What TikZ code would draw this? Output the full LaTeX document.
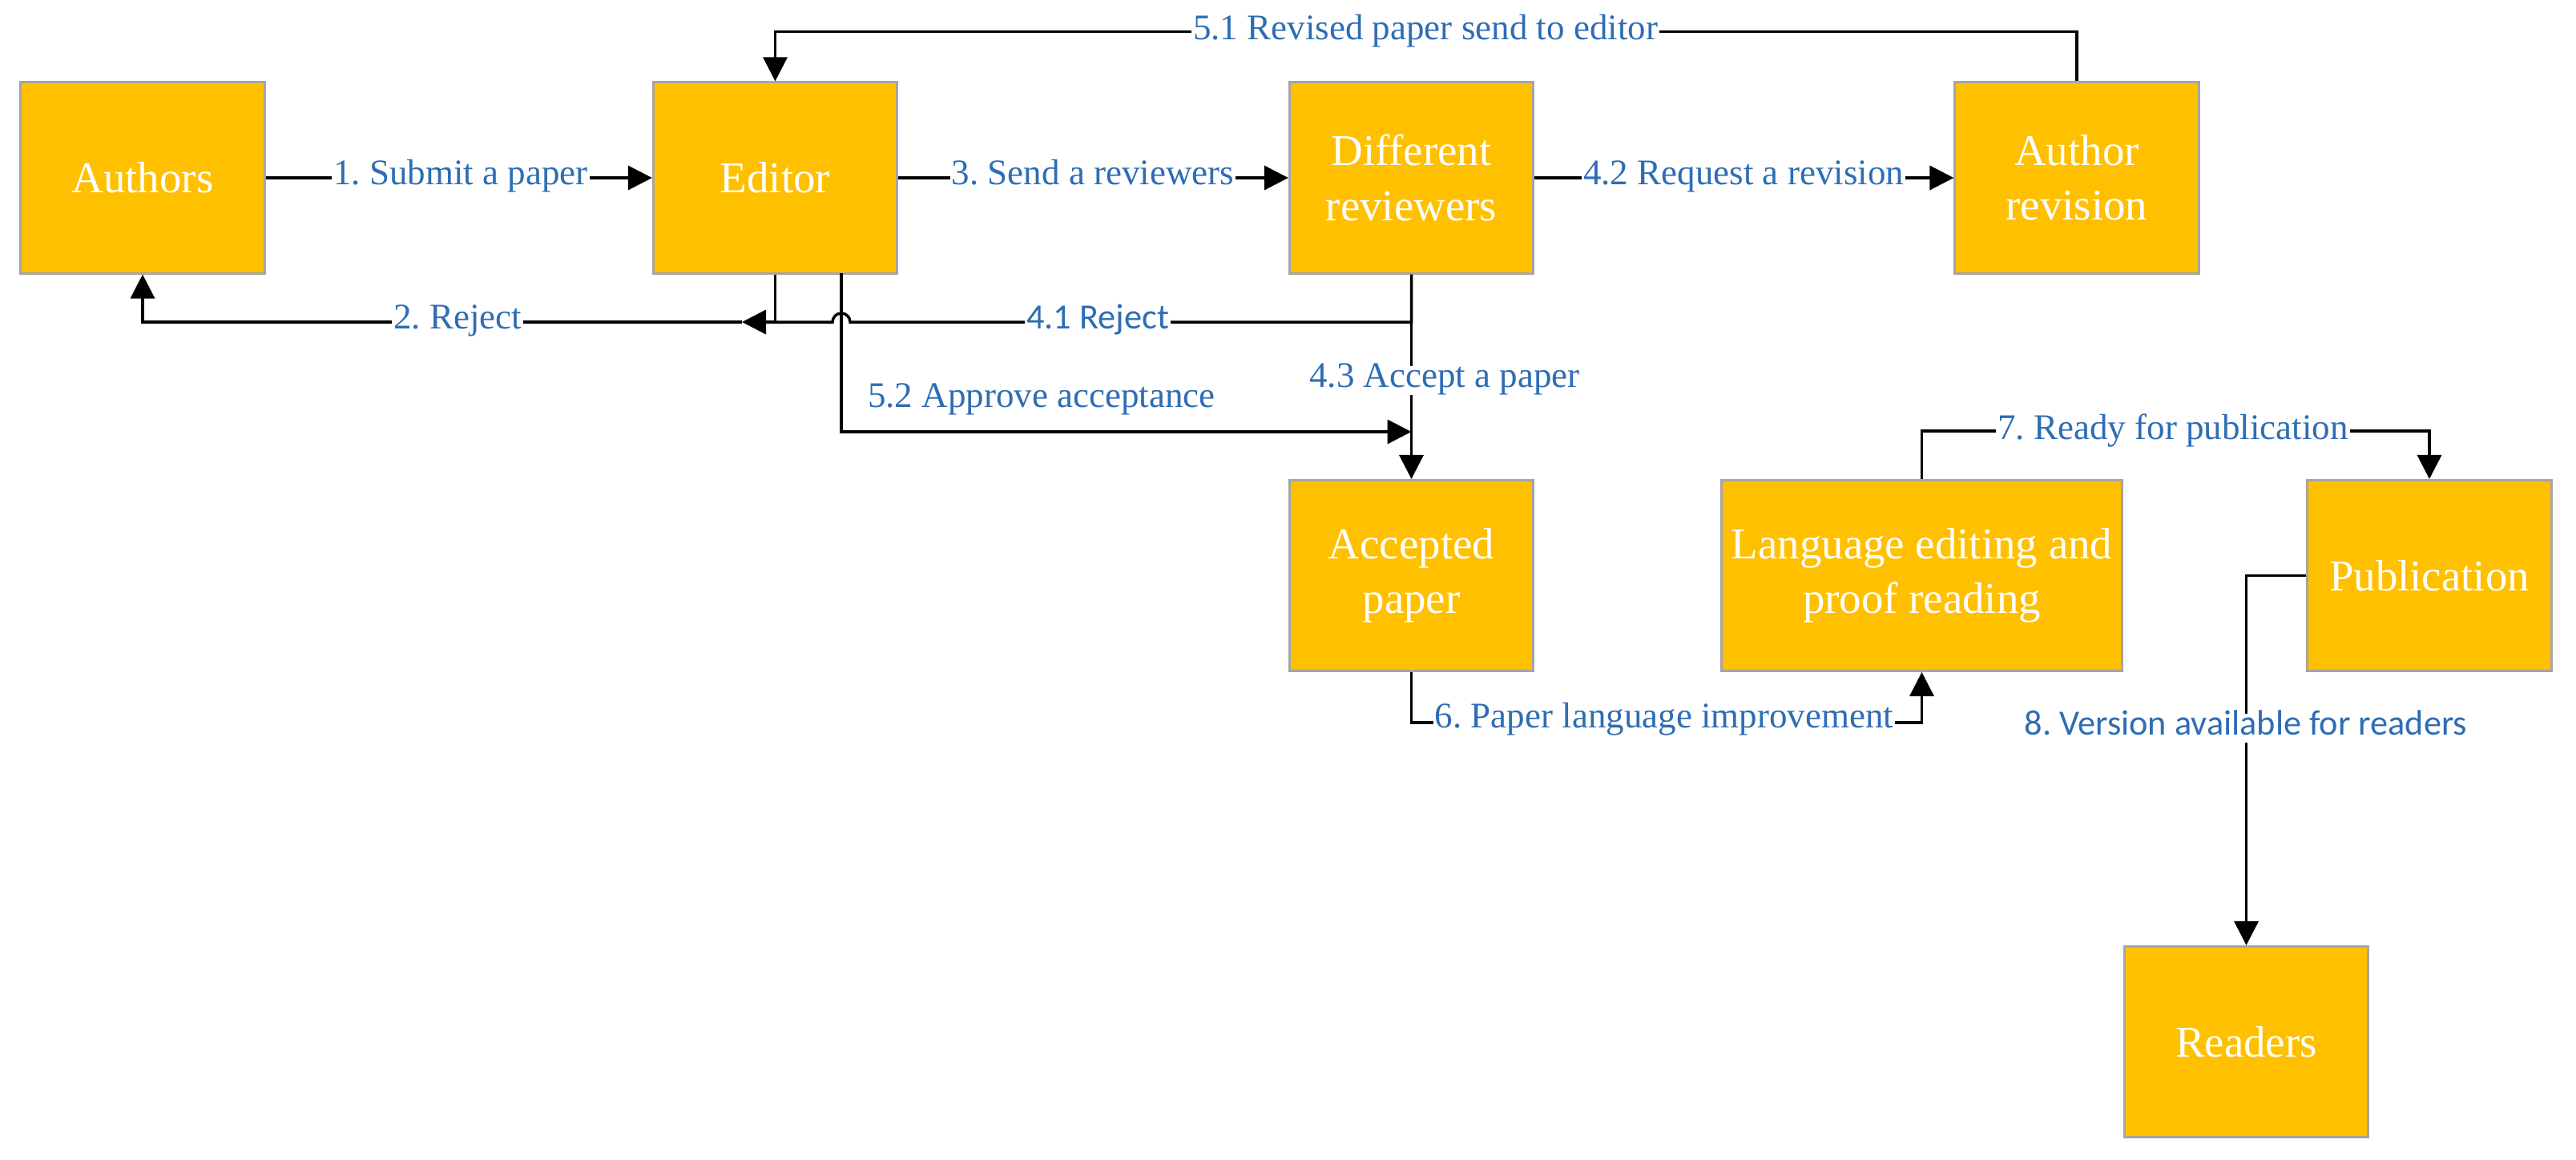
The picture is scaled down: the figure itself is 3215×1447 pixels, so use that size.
\documentclass[tikz,border=0pt]{standalone}
\usepackage{fontspec}
\setmainfont{Liberation Serif}
\newfontfamily\calfont{Carlito}
\usetikzlibrary{arrows.meta}
\definecolor{boxfill}{HTML}{FFC000}
\definecolor{boxline}{HTML}{A5A5A5}
\definecolor{lblue}{HTML}{2E6DB4}
\frenchspacing
\begin{document}
\begin{tikzpicture}[x=0.01cm,y=0.01cm,
  box/.style={draw=boxline, line width=0.03cm, fill=boxfill, text=white,
    minimum width=3.04cm, minimum height=2.38cm, inner sep=0pt, align=center,
    font=\fontsize{15.6}{19.4}\selectfont},
  lbl/.style={text=lblue, fill=white, inner sep=0.02cm, text height=0.68em, text depth=0.22em,
    font=\fontsize{12.8}{15}\selectfont},
  lblsans/.style={lbl, font=\calfont\fontsize{12.6}{15}\selectfont},
  conn/.style={line width=0.035cm, draw=black},
  arr/.style={conn, -{Triangle[length=0.3cm,width=0.3cm]}}]
\useasboundingbox (0,0) rectangle (3215,1447);
% boxes
\node[box] (authors) at (178,1225) {Authors};
\node[box] (editor) at (967.5,1225) {Editor};
\node[box] (reviewers) at (1761.5,1225) {Different\\reviewers};
\node[box] (revision) at (2592,1225) {Author\\revision};
\node[box] (accepted) at (1761.5,728.5) {Accepted\\paper};
\node[box, minimum width=4.99cm] (language) at (2398.5,728.5) {Language editing and\\proof reading};
\node[box] (publication) at (3032,728.5) {Publication};
\node[box] (readers) at (2803.5,146.5) {Readers};
% helper coordinates
\coordinate (rj) at (926,1045);
\coordinate (e2) at (1050,1106);
\coordinate (c52) at (1761.5,908);
% connectors
\draw[arr] (authors.east) -- (editor.west);
\draw[arr] (editor.east) -- (reviewers.west);
\draw[arr] (reviewers.east) -- (revision.west);
\draw[arr] (revision.north) -- ++(0,62) -| (editor.north);
\draw[arr] (editor.south) |- (rj);
\draw[arr] (rj) -| (authors.south);
\draw[conn] (reviewers.south) |- (1061,1045) arc[start angle=0,end angle=180,radius=11] -- (editor.south |- rj);
\draw[arr] (e2) |- (c52);
\draw[arr] (reviewers.south) -- (accepted.north);
\draw[arr] (accepted.south) -- ++(0,-63) -| (language.south);
\draw[arr] (language.north) -- ++(0,60) -| (publication.north);
\draw[arr] (publication.west) -| (readers.north);
% labels
\node[lbl] (l1) at (575,1225) {1. Submit a paper};
\node[lbl] (l3) at (1364,1225) {3. Send a reviewers};
\node[lbl] (l42) at (2176,1225) {4.2 Request a revision};
\node[lbl] (l51) at (1779,1406) {5.1 Revised paper send to editor};
\node[lbl] (l2) at (571,1045) {2. Reject};
\node[lblsans] (l41) at (1370,1045) {4.1 Reject};
\node[lbl] (l52) at (1300,947) {5.2 Approve acceptance};
\node[lbl] (l43) at (1803,972) {4.3 Accept a paper};
\node[lbl] (l6) at (2077,547) {6. Paper language improvement};
\node[lbl] (l7) at (2712,907) {7. Ready for publication};
\node[lblsans] (l8) at (2803,538) {8. Version available for readers};
\end{tikzpicture}
\end{document}
